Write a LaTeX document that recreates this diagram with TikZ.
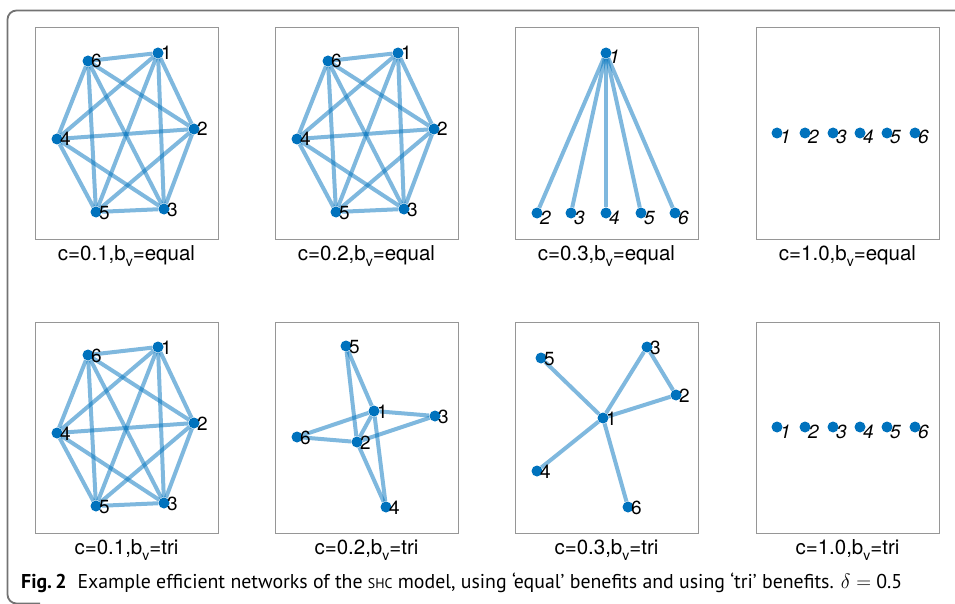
\documentclass[tikz,border=0pt]{standalone}
\usepackage{fontspec}
\setmainfont{TeX Gyre Heros}
\newfontfamily\capfont{PT Sans}
\usepackage{graphicx}
\definecolor{dotblue}{RGB}{0,114,189}
\definecolor{boxgray}{RGB}{150,150,150}
\definecolor{framegray}{RGB}{115,115,115}
\pgfdeclarelayer{bg}
\pgfsetlayers{bg,main}
\tikzset{
  dot/.style={circle, fill=dotblue, inner sep=0pt, minimum size=11pt},
  nlab/.style={anchor=base west, inner sep=0pt, font=\fontsize{19}{19}\selectfont},
  ilab/.style={anchor=base west, inner sep=0pt, font=\fontsize{19}{19}\selectfont\itshape},
  link/.style={draw=dotblue, draw opacity=0.5, line width=4pt},
  panelbox/.style={draw=boxgray, line width=1pt},
  ptitle/.style={anchor=base, inner sep=0pt, font=\fontsize{20.5}{20.5}\selectfont},
  framestyle/.style={draw=framegray, line width=1.8pt, rounded corners=9pt},
}
\newcommand\vnode[4]{%
  \node[dot] (#1) at (#2,#3) {};
  \node[nlab] (#1l) at (#2+3,#3+7) {#4};}
\newcommand\inode[4]{%
  \node[dot] (#1) at (#2,#3) {};
  \node[ilab] (#1l) at (#2+3,#3+11) {#4};}
\newcommand\sub[1]{\raisebox{-0.33em}{\fontsize{14}{14}\selectfont #1}}
\newcommand\fullpanel[3]{%
  \vnode{#1n1}{158+#2}{53+#3}{1}
  \vnode{#1n2}{194+#2}{129+#3}{2}
  \vnode{#1n3}{164+#2}{209+#3}{3}
  \vnode{#1n4}{57+#2}{139+#3}{4}
  \vnode{#1n5}{96+#2}{212+#3}{5}
  \vnode{#1n6}{88+#2}{61+#3}{6}
  \begin{pgfonlayer}{bg}
    \foreach \i/\j in {1/2,1/3,1/4,1/5,1/6,2/3,2/4,2/5,2/6,3/4,3/5,3/6,4/5,4/6,5/6}
      \draw[link] (#1n\i) -- (#1n\j);
  \end{pgfonlayer}}
\newcommand\linepanel[2]{%
  \inode{#1n1}{777}{#2}{1}
  \inode{#1n2}{805}{#2}{2}
  \inode{#1n3}{833}{#2}{3}
  \inode{#1n4}{860}{#2}{4}
  \inode{#1n5}{887}{#2}{5}
  \inode{#1n6}{915}{#2}{6}}
\begin{document}
\begin{tikzpicture}[x=1pt,y=-1pt]
\useasboundingbox (0,0) rectangle (955,604);
% outer frame
\draw[framestyle] (958,10.5) -- (7.5,10.5) -- (7.5,603.5) -- (40,603.5);
% panel boxes
\foreach \dx in {0,240,480,721} {
  \draw[panelbox] (35+\dx,28) rectangle (218+\dx,239);
  \draw[panelbox] (35+\dx,322) rectangle (218+\dx,533);
}
% top row
\fullpanel{a}{0}{0}
\fullpanel{b}{240}{0}
\inode{cn1}{606}{53}{1}
\inode{cn2}{537}{213}{2}
\inode{cn3}{571}{213}{3}
\inode{cn4}{606}{213}{4}
\inode{cn5}{641}{213}{5}
\inode{cn6}{675}{213}{6}
\begin{pgfonlayer}{bg}
  \foreach \j in {2,...,6} \draw[link] (cn1) -- (cn\j);
\end{pgfonlayer}
\linepanel{d}{133}
% bottom row
\fullpanel{e}{0}{294}
\vnode{fn1}{374}{411}{1}
\vnode{fn2}{357}{442}{2}
\vnode{fn3}{435}{416}{3}
\vnode{fn4}{386}{507}{4}
\vnode{fn5}{346}{346}{5}
\vnode{fn6}{297}{437}{6}
\begin{pgfonlayer}{bg}
  \foreach \i/\j in {5/1,5/2,1/3,1/6,1/2,1/4,2/6,2/3,2/4}
    \draw[link] (fn\i) -- (fn\j);
\end{pgfonlayer}
\vnode{gn1}{603}{418}{1}
\vnode{gn2}{676}{395}{2}
\vnode{gn3}{647}{347}{3}
\vnode{gn4}{537}{471}{4}
\vnode{gn5}{541}{358}{5}
\vnode{gn6}{628}{507}{6}
\begin{pgfonlayer}{bg}
  \foreach \i/\j in {1/5,1/3,3/2,1/2,1/4,1/6}
    \draw[link] (gn\i) -- (gn\j);
\end{pgfonlayer}
\linepanel{h}{427}
% titles
\node[ptitle] (t1) at (126.5,260) {c=0.1,b\sub{v}=equal};
\node[ptitle] (t2) at (366.5,260) {c=0.2,b\sub{v}=equal};
\node[ptitle] (t3) at (606.5,260) {c=0.3,b\sub{v}=equal};
\node[ptitle] (t4) at (847.5,260) {c=1.0,b\sub{v}=equal};
\node[ptitle] (t5) at (126.5,554) {c=0.1,b\sub{v}=tri};
\node[ptitle] (t6) at (366.5,554) {c=0.2,b\sub{v}=tri};
\node[ptitle] (t7) at (606.5,554) {c=0.3,b\sub{v}=tri};
\node[ptitle] (t8) at (847.5,554) {c=1.0,b\sub{v}=tri};
% caption
\node[anchor=base west, inner sep=0pt] (cap) at (21,588) {\resizebox{881pt}{\height}{\capfont\fontsize{20}{20}\selectfont\textbf{Fig.\,2}\hspace{0.55em}Example efficient networks of the {\fontsize{14}{14}\selectfont SHC} model, using ‘equal’ benefits and using ‘tri’ benefits. $\delta =$ 0.5}};
\end{tikzpicture}
\end{document}
